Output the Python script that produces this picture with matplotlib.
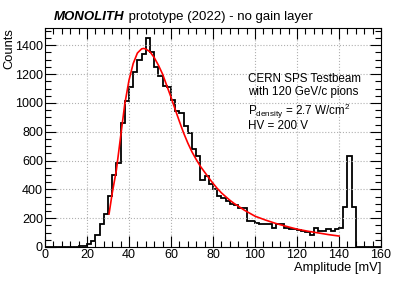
import numpy as np
import matplotlib
matplotlib.use("Agg")
import matplotlib.pyplot as plt
from matplotlib.ticker import MultipleLocator

plt.rcParams['font.family'] = ['Liberation Sans', 'DejaVu Sans']
plt.rcParams['mathtext.fontset'] = 'custom'
plt.rcParams['mathtext.rm'] = 'Liberation Sans'
plt.rcParams['mathtext.default'] = 'regular'

# histogram, 2 mV bins from 0 to 160
bin_edges = np.arange(0, 162, 2)
counts = [
    0, 0, 0, 0, 0, 0, 1, 3, 5, 8,                              # 0 - 20
    23, 39, 83, 158, 226, 356, 499, 585, 862, 1014,            # 20 - 40
    1111, 1218, 1300, 1340, 1452, 1356, 1250, 1185, 1116, 1107,  # 40 - 60
    1019, 942, 931, 840, 793, 682, 633, 464, 494, 434,         # 60 - 80
    400, 353, 337, 319, 296, 290, 268, 268, 180, 180,          # 80 - 100
    168, 163, 159, 159, 129, 159, 163, 135, 128, 122,          # 100 - 120
    118, 108, 106, 83, 129, 113, 113, 122, 113, 122,           # 120 - 140
    129, 280, 633, 280, 0, 0, 0, 0, 0, 0,                      # 140 - 160
]

# fit curve
fit_x = [30.5, 32, 34, 36, 38, 40, 42, 44, 46, 47, 48, 50, 52, 54, 56, 58,
         60, 62, 64, 66, 68, 70, 72, 74, 76, 78, 80, 82, 84, 86, 88, 90,
         95, 100, 105, 110, 115, 120, 125, 130, 135, 140]
fit_y = [229, 372, 534, 764, 992, 1157, 1273, 1346, 1375, 1378, 1374, 1355,
         1315, 1262, 1200, 1120, 1040, 955, 872, 792, 722, 660, 608, 560,
         520, 480, 442, 407, 376, 350, 325, 303, 255, 214, 187, 163, 143,
         124, 110, 98, 86, 76]

fig = plt.figure(figsize=(4.15, 2.81), dpi=100)
ax = fig.add_axes([0.1084, 0.121, 0.8096, 0.7794])

ax.stairs(counts, bin_edges, color='black', linewidth=1.3)
ax.plot(fit_x, fit_y, color='red', linewidth=1.2)

ax.set_xlim(0, 160)
ax.set_ylim(0, 1520)
ax.xaxis.set_major_locator(MultipleLocator(20))
ax.xaxis.set_minor_locator(MultipleLocator(4))
ax.yaxis.set_major_locator(MultipleLocator(200))
ax.yaxis.set_minor_locator(MultipleLocator(50))
ax.tick_params(which='both', direction='in', top=True, right=True,
               labelsize=9, width=0.8, pad=1.5)
ax.tick_params(which='major', length=8)
ax.tick_params(which='minor', length=4)
ax.grid(True, which='major', color='#b0b0b0', linestyle=':', linewidth=0.8)
for s in ax.spines.values():
    s.set_linewidth(0.8)

ax.set_xlabel('Amplitude [mV]', fontsize=9.3, loc='right', labelpad=1)
ax.set_ylabel('Counts', fontsize=9.3, loc='top', labelpad=0)

t1 = fig.text(54 / 415, 1 - 20 / 281, 'MONOLITH', fontsize=9.5,
              fontweight='bold', fontstyle='italic', va='baseline')
ax.annotate(' prototype (2022) - no gain layer', xy=(1, 0), xycoords=t1,
            fontsize=9.5, va='bottom', ha='left')

fs = 8.4
ax.text(0.605, 0.752, 'CERN SPS Testbeam', transform=ax.transAxes, fontsize=fs)
ax.text(0.605, 0.692, 'with 120 GeV/c pions', transform=ax.transAxes, fontsize=fs)
ax.text(0.605, 0.605, r'P$_{density}$ = 2.7 W/cm$^{2}$', transform=ax.transAxes, fontsize=fs)
ax.text(0.605, 0.54, 'HV = 200 V', transform=ax.transAxes, fontsize=fs)

fig.savefig('out.png', dpi=100)
